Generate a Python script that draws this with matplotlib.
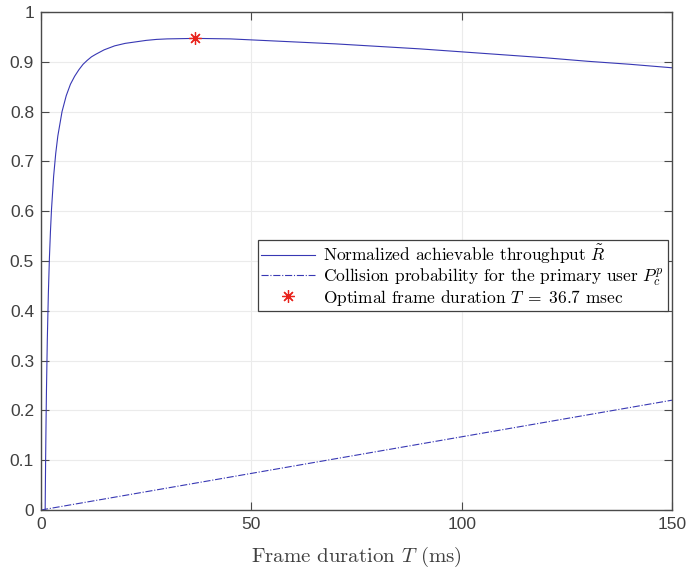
import matplotlib
matplotlib.use("Agg")
import matplotlib.pyplot as plt

plt.rcParams["mathtext.fontset"] = "cm"
plt.rcParams["axes.unicode_minus"] = False

# Normalized achievable throughput vs frame duration (ms)
frame_t = [0.99, 1.1, 1.2, 1.3, 1.5, 1.75, 2, 2.25, 2.5, 3, 3.5, 4, 5, 6, 7,
           8, 9, 10, 11, 12, 13, 15, 17.5, 20, 22.5, 25, 27.5, 30, 36.7, 45,
           50, 60, 70, 80, 90, 100, 110, 120, 130, 140, 150]
throughput = [0.0, 0.103, 0.177, 0.241, 0.342, 0.435, 0.506, 0.560, 0.604,
              0.670, 0.716, 0.751, 0.800, 0.832, 0.855, 0.871, 0.884, 0.895,
              0.903, 0.910, 0.915, 0.924, 0.932, 0.937, 0.940, 0.943, 0.945,
              0.946, 0.947, 0.946, 0.944, 0.940, 0.936, 0.931, 0.926, 0.920,
              0.914, 0.908, 0.901, 0.895, 0.888]

# Collision probability for the primary user
coll_t = [0, 50, 100, 150]
collision = [0.0, 0.0735, 0.147, 0.2205]

# Optimal point
opt_t = [36.7]
opt_r = [0.947]

xticks = [0, 50, 100, 150]
yticks = [0, 0.1, 0.2, 0.3, 0.4, 0.5, 0.6, 0.7, 0.8, 0.9, 1]
ytick_labels = ["0", "0.1", "0.2", "0.3", "0.4", "0.5", "0.6", "0.7", "0.8", "0.9", "1"]

fig = plt.figure(figsize=(6.89, 5.71), dpi=100)
ax = fig.add_axes([41 / 689, 61 / 571, 631 / 689, 498 / 571])

ax.plot(frame_t, throughput, color="#3838b4", lw=0.8,
        label=r"Normalized achievable throughput $\tilde{R}$")
ax.plot(coll_t, collision, color="#3838b4", lw=0.8, linestyle="-.",
        label=r"Collision probability for the primary user $P_c^p$")
ax.plot(opt_t, opt_r, linestyle="none", marker=(8, 2, 0), markersize=9,
        markeredgewidth=0.9, color="#e8231c",
        label=r"Optimal frame duration $T\;=\;36.7$ msec")

ax.set_xlim(0, 150)
ax.set_ylim(0, 1)
ax.set_xticks(xticks)
ax.set_xticklabels([str(v) for v in xticks])
ax.set_yticks(yticks)
ax.set_yticklabels(ytick_labels)
ax.grid(True, color="#ebebeb", lw=0.8)
ax.set_axisbelow(True)

for sp in ax.spines.values():
    sp.set_color("#4a4a4a")
    sp.set_linewidth(1.0)
ax.tick_params(direction="in", length=6, width=0.8, color="#4a4a4a",
               top=True, right=True, labelsize=12.5, labelcolor="#404040",
               pad=5)
for lbl in ax.get_xticklabels() + ax.get_yticklabels():
    lbl.set_family(["Liberation Sans", "DejaVu Sans"])

ax.set_xlabel(r"Frame duration $T$ (ms)", family="cmr10", fontsize=15,
              color="#404040", labelpad=9)

leg = ax.legend(loc="upper right", bbox_to_anchor=(0.993, 0.543),
                fancybox=False, framealpha=1, edgecolor="#404040",
                prop={"family": "cmr10", "size": 12.5}, borderpad=0.2,
                handlelength=3.1, handletextpad=0.45, labelspacing=0.0,
                borderaxespad=0)
leg.get_frame().set_linewidth(0.9)

fig.savefig("out.png", dpi=100)
